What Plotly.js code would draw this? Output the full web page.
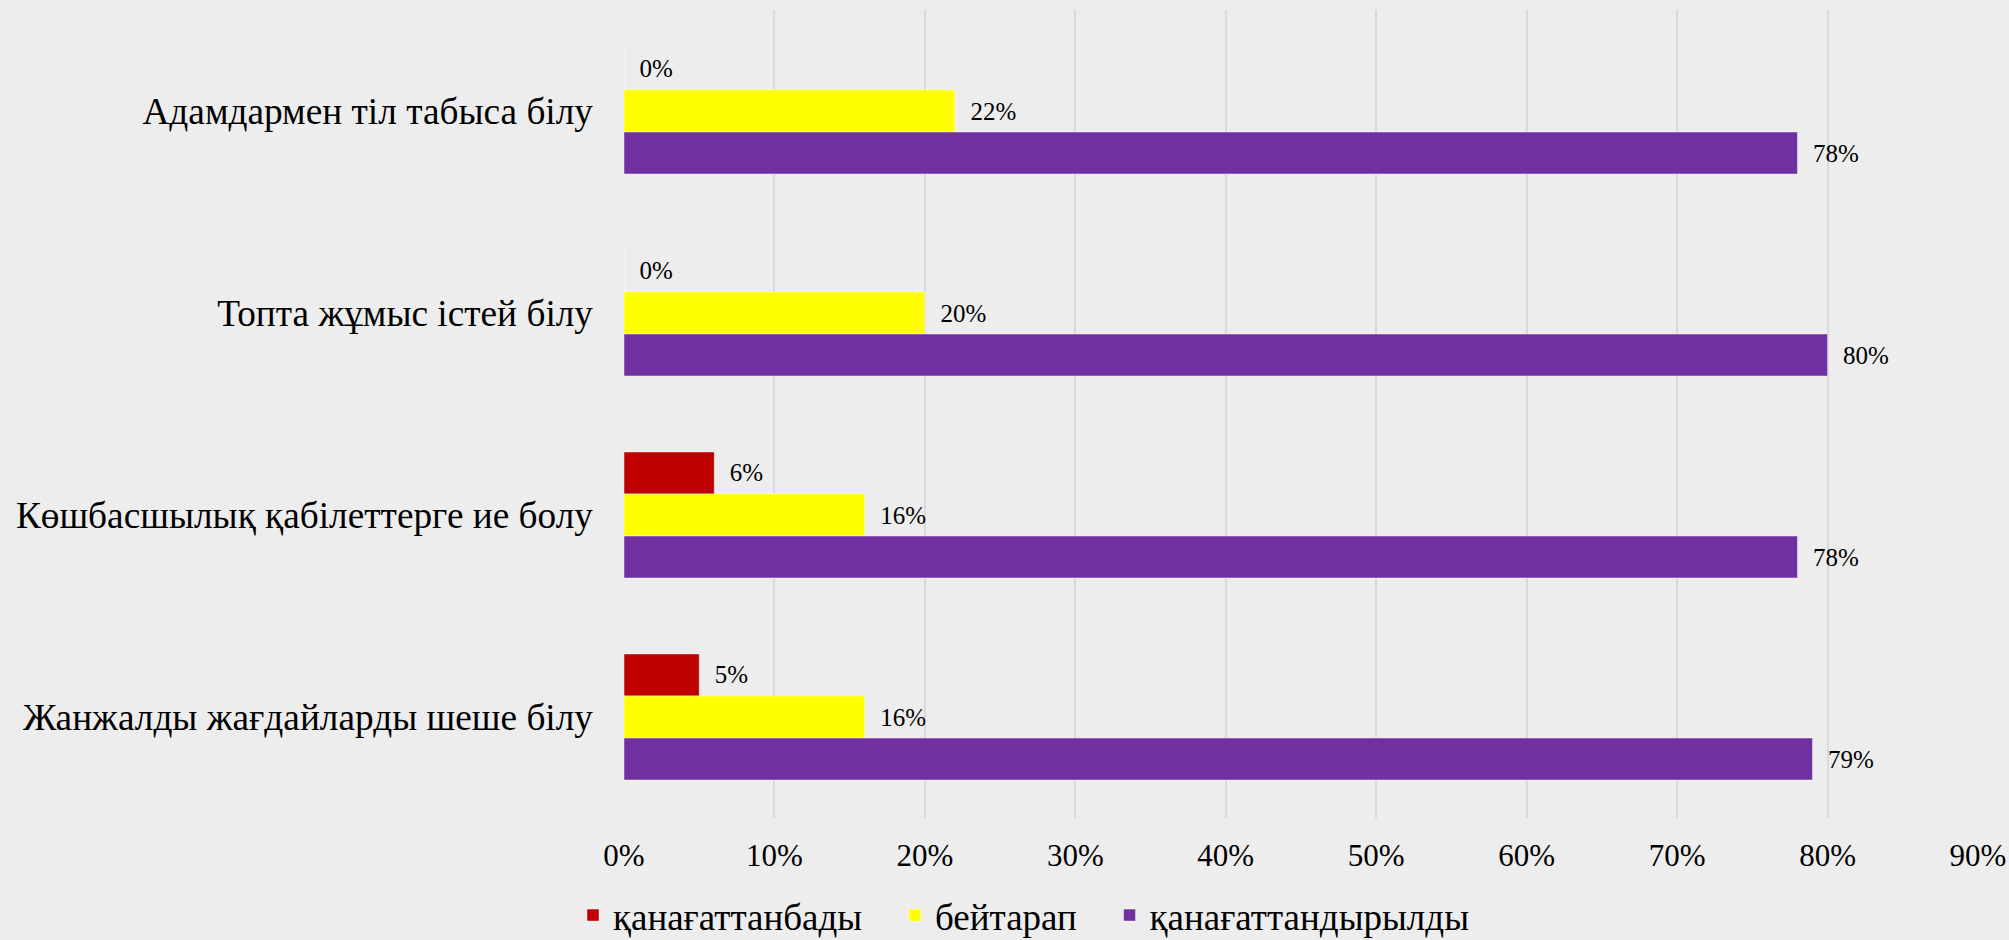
<!DOCTYPE html>
<html>
<head>
<meta charset="utf-8">
<script src="https://cdn.plot.ly/plotly-3.0.1.min.js"></script>
<style>
html,body{margin:0;padding:0;background:#EDEDED;}
#chart{width:2009px;height:940px;}
</style>
</head>
<body>
<div id="chart"></div>
<script>
const categories = [
  "Адамдармен тіл табыса білу",
  "Топта жұмыс істей білу",
  "Көшбасшылық қабілеттерге ие болу",
  "Жанжалды жағдайларды шеше білу"
];
const seriesNames = ["қанағаттанбады", "бейтарап", "қанағаттандырылды"];
const dissatisfied = [0, 0, 0.06, 0.05];
const neutral = [0.22, 0.20, 0.16, 0.16];
const satisfied = [0.78, 0.80, 0.78, 0.79];
const seriesColors = ["#C00000", "#FFFF00", "#7030A0"];
const xTickVals = [0, 0.1, 0.2, 0.3, 0.4, 0.5, 0.6, 0.7, 0.8, 0.9];
const xTickText = ["0%", "10%", "20%", "30%", "40%", "50%", "60%", "70%", "80%", "90%"];

const FONT = "Liberation Serif";
const values = [dissatisfied, neutral, satisfied];
const NB = "\u00A0";

const traces = values.map((v, i) => ({
  type: "bar",
  orientation: "h",
  name: seriesNames[i] + (i < values.length - 1 ? NB + NB + NB : ""),
  y: categories,
  x: v,
  marker: {color: seriesColors[i], line: {width: 1, color: "rgba(255,255,255,0.45)"}},
  text: v.map(d => NB + NB + Math.round(d * 100) + "%"),
  textposition: "outside",
  textfont: {family: FONT, size: 25, color: "#000"},
  cliponaxis: false,
  hoverinfo: "x+y+name"
}));

const layout = {
  width: 2009,
  height: 940,
  paper_bgcolor: "#EDEDED",
  plot_bgcolor: "#EDEDED",
  margin: {l: 624, r: 31, t: 10, b: 122, autoexpand: false},
  barmode: "group",
  bargap: 0.376,
  bargroupgap: 0,
  font: {family: FONT, color: "#000"},
  xaxis: {
    range: [0, 0.9],
    tickvals: xTickVals,
    ticktext: xTickText,
    tickangle: 0,
    showgrid: true,
    gridcolor: "#D9D9D9",
    gridwidth: 1.5,
    zeroline: false,
    showline: false,
    ticks: "",
    tickfont: {family: FONT, size: 31, color: "#000"},
    ticklabelstandoff: 16,
    automargin: false,
    fixedrange: true
  },
  yaxis: {
    type: "category",
    autorange: "reversed",
    showgrid: false,
    zeroline: false,
    showline: false,
    ticks: "",
    tickfont: {family: FONT, size: 37.3, color: "#000"},
    ticklabelstandoff: 30,
    automargin: false,
    fixedrange: true
  },
  showlegend: true,
  legend: {
    orientation: "h",
    xref: "container",
    yref: "container",
    x: 0.5097,
    xanchor: "center",
    y: 0.026,
    yanchor: "middle",
    font: {family: FONT, size: 37, color: "#000"},
    bgcolor: "rgba(0,0,0,0)",
    itemwidth: 30,
    traceorder: "normal"
  }
};

Plotly.newPlot("chart", traces, layout, {displayModeBar: false});
</script>
</body>
</html>
